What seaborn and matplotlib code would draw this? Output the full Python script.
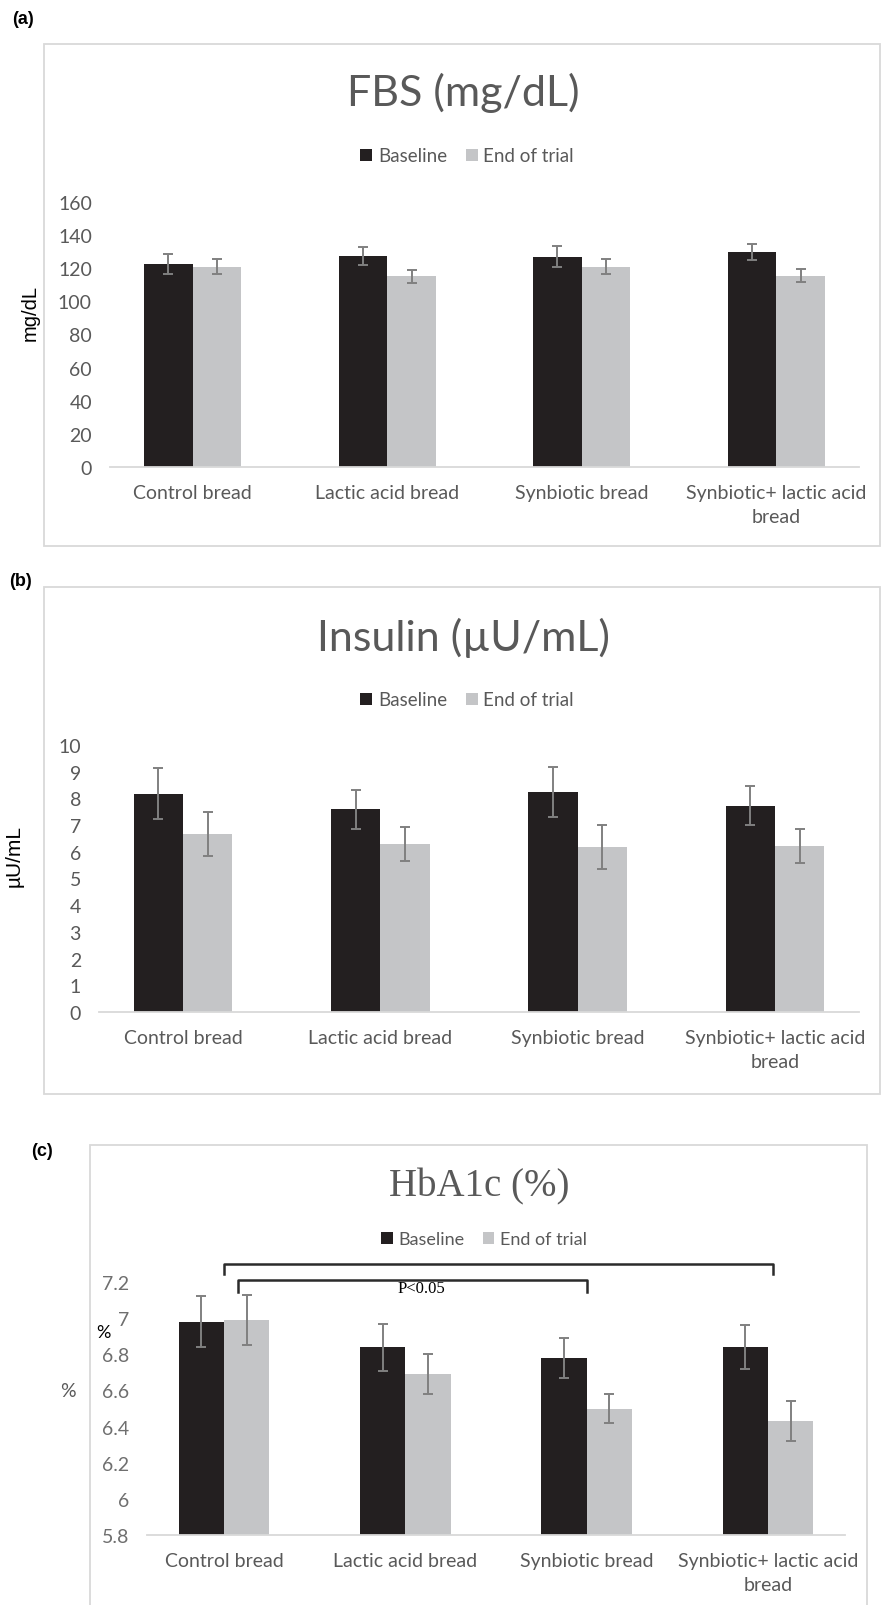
import matplotlib
matplotlib.use('Agg')
from matplotlib import pyplot as plt
from matplotlib.patches import Patch, Rectangle
import pandas as pd
import seaborn as sns

# data
categories = ['Control bread', 'Lactic acid bread', 'Synbiotic bread', 'Synbiotic+ lactic acid\nbread']
times = ['Baseline', 'End of trial']

fbs_base = [122.6, 127.3, 126.9, 129.7]
fbs_base_err = [6.0, 5.3, 6.3, 5.0]
fbs_end = [121.0, 115.1, 121.0, 115.5]
fbs_end_err = [4.7, 3.9, 4.7, 3.9]

ins_base = [8.17, 7.59, 8.24, 7.72]
ins_base_err = [0.95, 0.74, 0.95, 0.73]
ins_end = [6.66, 6.30, 6.18, 6.22]
ins_end_err = [0.82, 0.64, 0.83, 0.65]

hba_base = [6.98, 6.84, 6.78, 6.84]
hba_base_err = [0.14, 0.13, 0.11, 0.12]
hba_end = [6.99, 6.69, 6.50, 6.43]
hba_end_err = [0.14, 0.11, 0.08, 0.11]

fbs_ticks = [0, 20, 40, 60, 80, 100, 120, 140, 160]
ins_ticks = [0, 1, 2, 3, 4, 5, 6, 7, 8, 9, 10]
hba_ticks = [5.8, 6.0, 6.2, 6.4, 6.6, 6.8, 7.0, 7.2]
hba_tick_labels = ['5.8', '6', '6.2', '6.4', '6.6', '6.8', '7', '7.2']

DARK = '#231f20'
LIGHT = '#c4c5c7'
GREY_TXT = '#595959'
ERR = '#808080'

plt.rcParams['font.family'] = ['Lato', 'DejaVu Sans']

W, H = 885, 1606
fig = plt.figure(figsize=(W / 100, H / 100), dpi=100)


def fx(x):
    return x / W


def fy(y):
    return 1 - y / H


def box(l, t, r, b):
    fig.patches.append(Rectangle((fx(l), fy(b)), fx(r - l), (b - t) / H, transform=fig.transFigure,
                                 fill=False, edgecolor='#d9d9d9', linewidth=1.3))


def panel(l, t, r, b, base, base_err, end, end_err, ticks, ylim, ticklabels=None, tickcolor=GREY_TXT):
    ax = fig.add_axes([fx(l), fy(b), fx(r - l), (b - t) / H])
    df = pd.DataFrame({'cat': categories * 2,
                       'time': [times[0]] * 4 + [times[1]] * 4,
                       'val': base + end})
    sns.barplot(data=df, x='cat', y='val', hue='time', palette=[DARK, LIGHT], width=0.5, gap=0,
                errorbar=None, saturation=1, legend=False, ax=ax)
    for cont, vals, errs in zip(ax.containers, [base, end], [base_err, end_err]):
        xs = [bar.get_x() + bar.get_width() / 2 for bar in cont]
        ax.errorbar(xs, vals, yerr=errs, fmt='none', ecolor=ERR, elinewidth=1.4,
                    capsize=3.6, capthick=1.4, zorder=5)
    ax.set_ylim(*ylim)
    ax.set_yticks(ticks)
    if ticklabels is not None:
        ax.set_yticklabels(ticklabels)
    ax.set_xlabel('')
    ax.set_ylabel('')
    for s in ['top', 'right', 'left']:
        ax.spines[s].set_visible(False)
    ax.spines['bottom'].set_color('#d9d9d9')
    ax.spines['bottom'].set_linewidth(1.3)
    ax.tick_params(axis='both', length=0, labelsize=14)
    ax.tick_params(axis='x', labelcolor=GREY_TXT, pad=12)
    ax.tick_params(axis='y', labelcolor=tickcolor, pad=13)
    for lab in ax.get_xticklabels():
        lab.set_linespacing(1.5)
    ax.set_facecolor('none')
    return ax


def legend(x, y, size=13.5):
    handles = [Patch(facecolor=DARK), Patch(facecolor=LIGHT)]
    fig.legend(handles, times, loc='center', bbox_to_anchor=(fx(x), fy(y)), ncol=2, frameon=False,
               handlelength=0.65, handleheight=0.65, handletextpad=0.3, columnspacing=1.0,
               prop={'size': size}, labelcolor=GREY_TXT)


# (a) FBS
box(44, 45, 880, 547)
fig.text(fx(23), fy(20), '(a)', ha='center', va='center', fontsize=13, fontweight='bold',
         family=['Liberation Sans', 'DejaVu Sans'])
panel(110, 203, 859, 468, fbs_base, fbs_base_err, fbs_end, fbs_end_err, fbs_ticks, (0, 160))
fig.text(fx(463), fy(93), 'FBS (mg/dL)', ha='center', va='center', fontsize=31, color=GREY_TXT)
legend(467, 157)
fig.text(fx(30), fy(313), 'mg/dL', ha='center', va='center', rotation=90, fontsize=14.5,
         family=['Liberation Sans', 'DejaVu Sans'])

# (b) Insulin
box(44, 588, 880, 1095)
fig.text(fx(20), fy(582), '(b)', ha='center', va='center', fontsize=13, fontweight='bold',
         family=['Liberation Sans', 'DejaVu Sans'])
panel(99, 746, 859, 1013, ins_base, ins_base_err, ins_end, ins_end_err, ins_ticks, (0, 10))
fig.text(fx(463), fy(638), 'Insulin (\u00b5U/mL)', ha='center', va='center', fontsize=31,
         color=GREY_TXT)
legend(467, 701)
fig.text(fx(14), fy(856), '\u00b5U/mL', ha='center', va='center', rotation=90, fontsize=15,
         family=['Liberation Sans', 'DejaVu Sans'])

# (c) HbA1c
box(90, 1146, 867, 1620)
fig.text(fx(42), fy(1152), '(c)', ha='center', va='center', fontsize=13, fontweight='bold',
         family=['Liberation Sans', 'DejaVu Sans'])
ax = panel(147, 1283, 845, 1536, hba_base, hba_base_err, hba_end, hba_end_err, hba_ticks, (5.8, 7.2),
           hba_tick_labels, tickcolor='#6f6f6f')
fig.text(fx(479), fy(1187), 'HbA1c (%)', ha='center', va='center', fontsize=28, color=GREY_TXT,
         family=['Liberation Serif', 'DejaVu Serif'])
legend(484, 1240, size=13)
fig.text(fx(103), fy(1333), '%', ha='center', va='center', fontsize=13)
fig.text(fx(68), fy(1392), '%', ha='center', va='center', fontsize=14, color=GREY_TXT)

# significance brackets
for x0, x1, ytop, ybot in [(0.0, 3.03, 7.30, 7.245), (0.075, 2.0, 7.211, 7.145)]:
    ax.plot([x0, x0, x1, x1], [ybot, ytop, ytop, ybot], color='#2b2b2b', linewidth=1.8,
            clip_on=False, zorder=6)
ax.text(1.087, 7.167, 'P<0.05', ha='center', va='center', fontsize=12,
        family=['Liberation Serif', 'DejaVu Serif'])

fig.savefig('out.png', dpi=100, facecolor='white')
